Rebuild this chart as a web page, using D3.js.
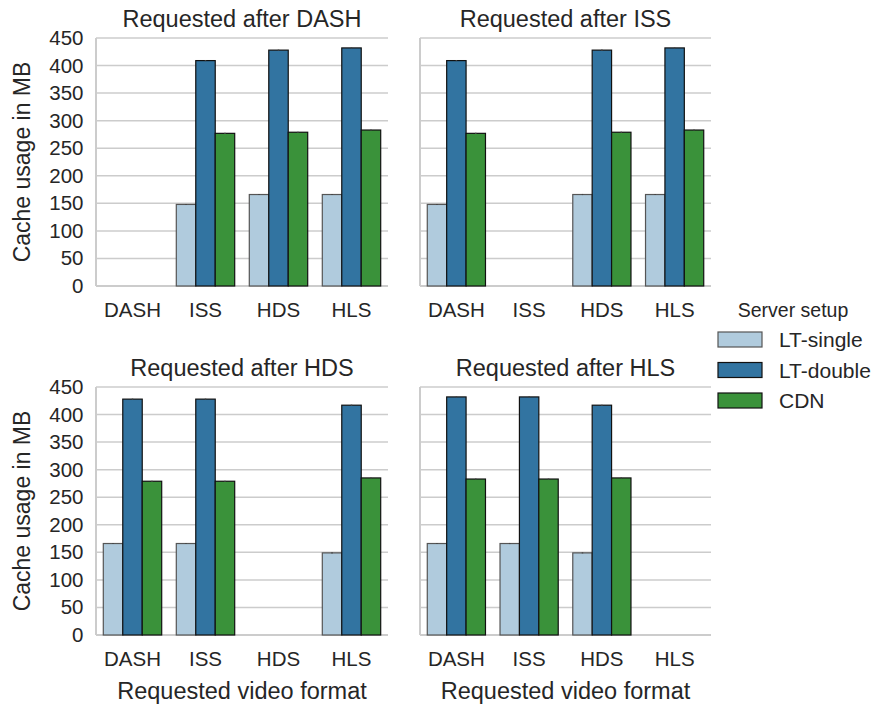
<!DOCTYPE html>
<html>
<head>
<meta charset="utf-8">
<script src="https://cdn.jsdelivr.net/npm/d3@7"></script>
<style>
  body { margin: 0; background: white; }
  text { font-family: "Liberation Sans", Arial, sans-serif; fill: #262626; }
</style>
</head>
<body>
<div id="vis"></div>
<script>
// data
let formats = ['DASH', 'ISS', 'HDS', 'HLS'];
let afterFormats = ['DASH', 'ISS', 'HDS', 'HLS'];
let setups = ['LT-single', 'LT-double', 'CDN'];
let colors = ['#b0cbdd', '#3274a1', '#3a923a'];
let yTicks = [0, 50, 100, 150, 200, 250, 300, 350, 400, 450];

// one row per panel (requested after ...), one value per requested format
let ltSingle = [
  [null, 148, 166, 166],
  [148, null, 166, 166],
  [166, 166, null, 149],
  [166, 166, 149, null]
];
let ltDouble = [
  [null, 409, 428, 432],
  [409, null, 428, 432],
  [428, 428, null, 417],
  [432, 432, 417, null]
];
let cdn = [
  [null, 277, 279, 283],
  [277, null, 279, 283],
  [279, 279, null, 285],
  [283, 283, 285, null]
];
let series = [ltSingle, ltDouble, cdn];

let W = 876, H = 706;
let svg = d3.select('#vis').append('svg')
  .attr('width', W)
  .attr('height', H);

// panel frames
let panels = [
  { x0: 96, x1: 388, top: 38, bottom: 286 },
  { x0: 420, x1: 711, top: 38, bottom: 286 },
  { x0: 96, x1: 388, top: 387, bottom: 635 },
  { x0: 420, x1: 711, top: 387, bottom: 635 }
];

panels.forEach((p, i) => {
  let g = svg.append('g');
  let x = d3.scaleBand().domain(formats).range([p.x0, p.x1]);
  let y = d3.scaleLinear().domain([0, 450]).range([p.bottom, p.top]);
  let inner = d3.scaleBand().domain(setups).range([0, x.bandwidth() * 0.8]);

  // grid
  g.selectAll('line.grid')
    .data(yTicks.slice(1))
    .enter().append('line')
    .attr('x1', p.x0).attr('x2', p.x1)
    .attr('y1', d => y(d)).attr('y2', d => y(d))
    .attr('stroke', '#cccccc')
    .attr('stroke-width', 1.5);

  // spines
  g.append('line')
    .attr('x1', p.x0).attr('x2', p.x0)
    .attr('y1', p.top).attr('y2', p.bottom)
    .attr('stroke', '#cccccc').attr('stroke-width', 2);
  g.append('line')
    .attr('x1', p.x0).attr('x2', p.x1)
    .attr('y1', p.bottom).attr('y2', p.bottom)
    .attr('stroke', '#cccccc').attr('stroke-width', 2);

  // bars
  setups.forEach((s, k) => {
    let vals = series[k][i];
    formats.forEach((f, j) => {
      let v = vals[j];
      if (v == null) return;
      let bx = x(f) + x.bandwidth() * 0.1 + inner(s);
      g.append('rect')
        .attr('x', bx)
        .attr('y', y(v))
        .attr('width', inner.bandwidth())
        .attr('height', y(0) - y(v))
        .attr('fill', colors[k])
        .attr('stroke', k == 0 ? '#555' : '#111')
        .attr('stroke-width', 1.2);
      // tiny error bar
      g.append('line')
        .attr('x1', bx + inner.bandwidth() / 2).attr('x2', bx + inner.bandwidth() / 2)
        .attr('y1', y(v + 1)).attr('y2', y(v - 1))
        .attr('stroke', '#444').attr('stroke-width', 1.5);
    });
  });

  // x tick labels
  g.selectAll('text.xt')
    .data(formats)
    .enter().append('text')
    .attr('x', d => x(d) + x.bandwidth() / 2)
    .attr('y', p.bottom + 31)
    .attr('text-anchor', 'middle')
    .style('font-size', '20.5px')
    .text(d => d);

  // y tick labels on left panels only
  if (i % 2 == 0) {
    g.selectAll('text.yt')
      .data(yTicks)
      .enter().append('text')
      .attr('x', p.x0 - 12.5)
      .attr('y', d => y(d) + 7)
      .attr('text-anchor', 'end')
      .style('font-size', '20.5px')
      .text(d => d);
    g.append('text')
      .attr('transform', 'translate(30,' + ((p.top + p.bottom) / 2) + ') rotate(-90)')
      .attr('text-anchor', 'middle')
      .style('font-size', '23px')
      .text('Cache usage in MB');
  }

  // panel title
  g.append('text')
    .attr('x', (p.x0 + p.x1) / 2)
    .attr('y', p.top - 11.5)
    .attr('text-anchor', 'middle')
    .style('font-size', '23.5px')
    .text('Requested after ' + afterFormats[i]);

  // x axis label on bottom panels
  if (i >= 2) {
    g.append('text')
      .attr('x', (p.x0 + p.x1) / 2)
      .attr('y', p.bottom + 64)
      .attr('text-anchor', 'middle')
      .style('font-size', '23.5px')
      .text('Requested video format');
  }
});

// legend
let legend = svg.append('g');
legend.append('text')
  .attr('x', 793).attr('y', 317)
  .attr('text-anchor', 'middle')
  .style('font-size', '19.5px')
  .text('Server setup');
setups.forEach((s, k) => {
  let ly = 332 + k * 30.5;
  legend.append('rect')
    .attr('x', 718).attr('y', ly)
    .attr('width', 44).attr('height', 15)
    .attr('fill', colors[k])
    .attr('stroke', k == 0 ? '#555' : '#111')
    .attr('stroke-width', 1.2);
  legend.append('text')
    .attr('x', 779).attr('y', ly + 15)
    .style('font-size', '21px')
    .text(s);
});
</script>
</body>
</html>
